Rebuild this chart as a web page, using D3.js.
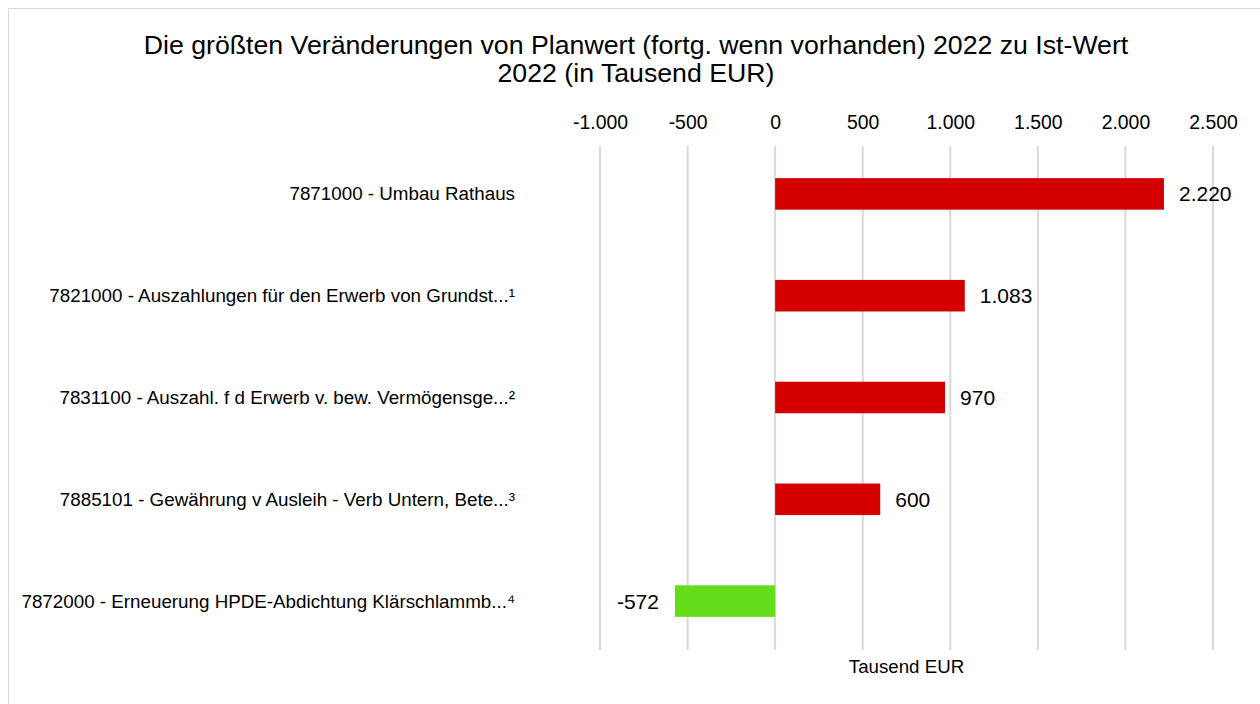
<!DOCTYPE html>
<html>
<head>
<meta charset="utf-8">
<script src="https://cdn.jsdelivr.net/npm/d3@7"></script>
<style>
  html, body { margin: 0; padding: 0; background: #fff; }
  svg { display: block; font-family: "Liberation Sans", Arial, sans-serif; }
</style>
</head>
<body>
<svg id="chart" width="1260" height="704"></svg>
<script>
// Investment line items and their deviation plan vs. actual (thousand EUR)
const categories = [
  "7871000 - Umbau Rathaus",
  "7821000 - Auszahlungen für den Erwerb von Grundst...¹",
  "7831100 - Auszahl. f d Erwerb v. bew. Vermögensge...²",
  "7885101 - Gewährung v Ausleih - Verb Untern, Bete...³",
  "7872000 - Erneuerung HPDE-Abdichtung Klärschlammb...⁴"
];
const values = [2220, 1083, 970, 600, -572];
const tickValues = [-1000, -500, 0, 500, 1000, 1500, 2000, 2500];
const titleLines = [
  "Die größten Veränderungen von Planwert (fortg. wenn vorhanden) 2022 zu Ist-Wert",
  "2022 (in Tausend EUR)"
];
const axisTitle = "Tausend EUR";

// German number format with a plain hyphen as minus sign
const fmt = d3.formatLocale({
  decimal: ",", thousands: ".", grouping: [3], currency: ["", " €"], minus: "-"
}).format(",");

const svg = d3.select("#chart");

// outer frame
svg.append("rect")
  .attr("x", 8.5).attr("y", 8.5)
  .attr("width", 1300).attr("height", 800)
  .attr("fill", "#fff")
  .attr("stroke", "#d9d9d9")
  .attr("stroke-width", 1);

const plot = { left: 600, right: 1213, top: 143, bottom: 652 };

const x = d3.scaleLinear()
  .domain([-1000, 2500])
  .range([plot.left, plot.right]);

const y = d3.scaleBand()
  .domain(categories)
  .range([plot.top, plot.bottom])
  .paddingInner(0.69)
  .paddingOuter(0.345);

// title
svg.append("text")
  .attr("x", 636).attr("y", 54)
  .attr("text-anchor", "middle")
  .attr("font-size", 26.7)
  .attr("fill", "#000")
  .selectAll("tspan")
  .data(titleLines)
  .join("tspan")
  .attr("x", 636)
  .attr("dy", (d, i) => i === 0 ? 0 : 28)
  .text(d => d);

// vertical gridlines
svg.append("g")
  .selectAll("line")
  .data(tickValues)
  .join("line")
  .attr("x1", d => x(d)).attr("x2", d => x(d))
  .attr("y1", 146).attr("y2", 650)
  .attr("stroke", "#d9d9d9")
  .attr("stroke-width", 2);

// top axis labels
const axis = d3.axisTop(x)
  .tickValues(tickValues)
  .tickFormat(fmt)
  .tickSize(0)
  .tickPadding(0);

const axisG = svg.append("g")
  .attr("transform", "translate(0,129)")
  .call(axis);
axisG.select(".domain").remove();
axisG.selectAll("text")
  .attr("dy", 0)
  .attr("font-size", 19.4)
  .attr("font-family", "Liberation Sans, Arial, sans-serif")
  .attr("fill", "#000");

// category labels
svg.append("g")
  .selectAll("text")
  .data(categories)
  .join("text")
  .attr("x", 515)
  .attr("y", d => y(d) + y.bandwidth() / 2)
  .attr("dy", "0.35em")
  .attr("text-anchor", "end")
  .attr("font-size", 18.8)
  .attr("fill", "#000")
  .text(d => d);

// bars
svg.append("g")
  .selectAll("rect")
  .data(values)
  .join("rect")
  .attr("x", d => x(Math.min(0, d)))
  .attr("y", (d, i) => y(categories[i]))
  .attr("width", d => Math.abs(x(d) - x(0)))
  .attr("height", y.bandwidth())
  .attr("fill", d => d < 0 ? "#66dd1a" : "#d40000");

// value labels
svg.append("g")
  .selectAll("text")
  .data(values)
  .join("text")
  .attr("x", d => d < 0 ? x(d) - 16 : x(d) + 15)
  .attr("y", (d, i) => y(categories[i]) + y.bandwidth() / 2)
  .attr("dy", "0.36em")
  .attr("text-anchor", d => d < 0 ? "end" : "start")
  .attr("font-size", 21)
  .attr("fill", "#000")
  .text(fmt);

// axis title
svg.append("text")
  .attr("x", (plot.left + plot.right) / 2)
  .attr("y", 673)
  .attr("text-anchor", "middle")
  .attr("font-size", 18.7)
  .attr("fill", "#000")
  .text(axisTitle);
</script>
</body>
</html>
